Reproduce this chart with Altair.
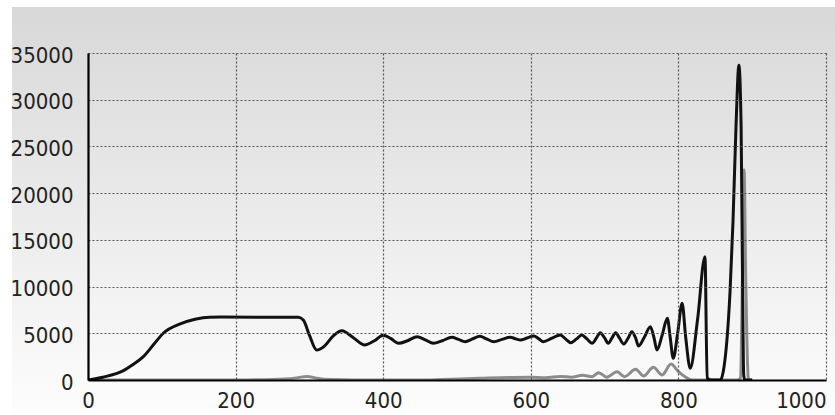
import altair as alt
import pandas as pd

# Black series
black_x = [0, 20, 48, 60, 75, 90, 102, 125, 145, 165, 180, 285, 292, 300, 310, 320, 332, 344, 360, 375,
           388, 400, 410, 421, 433, 446, 457, 468, 480, 493, 502, 511, 521, 531, 540, 550, 561, 572, 580, 586,
           595, 604, 611, 617, 628, 640, 647, 654, 662, 669, 676, 683, 689, 694, 700, 705, 710, 715, 720, 726,
           732, 737, 742, 746, 754, 762, 767, 771, 778, 785, 789, 793, 799, 805, 810, 816, 826, 836, 839, 845,
           857, 862, 866, 870, 874, 878, 882, 885, 887, 888.5, 890, 900]
black_y = [0, 300, 1000, 1600, 2500, 3900, 5000, 6000, 6500, 6720, 6730, 6720, 6400, 4800, 3200, 3600, 4700, 5280, 4500, 3750,
           4200, 4800, 4450, 3930, 4200, 4640, 4300, 3930, 4200, 4570, 4350, 4100, 4400, 4680, 4400, 4100, 4350, 4570, 4400, 4280,
           4500, 4710, 4400, 4100, 4450, 4820, 4400, 4000, 4400, 4820, 4400, 3930, 4500, 5070, 4500, 3930, 4500, 5070, 4500, 3850,
           4500, 5170, 4500, 3640, 4600, 5710, 4500, 3210, 4800, 6600, 4500, 2320, 5000, 8210, 4500, 1250, 6500, 13200, 200, 0,
           0, 1500, 4500, 9500, 17000, 27000, 33700, 27000, 10000, 500, 0, 0]

# Gray series
gray_x = [0, 200, 250, 280, 297, 310, 330, 360, 450, 480, 530, 600, 620, 640, 655, 670, 683, 692, 703, 717,
          727, 742, 753, 766, 778, 790, 800, 810, 818, 880, 884, 887, 889, 891, 895, 900]
gray_y = [0, 0, 60, 200, 380, 200, 50, 0, 0, 60, 180, 290, 250, 380, 300, 500, 350, 780, 300, 890,
          350, 1140, 430, 1360, 540, 1700, 900, 300, 0, 0, 200, 12000, 22500, 12000, 0, 0]

x_ticks = [0, 200, 400, 600, 800, 1000]
y_ticks = [0, 5000, 10000, 15000, 20000, 25000, 30000, 35000]

df = pd.concat([
    pd.DataFrame({"x": gray_x, "y": gray_y, "series": "gray", "ord": 0}),
    pd.DataFrame({"x": black_x, "y": black_y, "series": "black", "ord": 1}),
])

W, H = 738, 327
FONT = "Liberation Sans Narrow, Arial Narrow, DejaVu Sans Condensed, sans-serif"

bg = alt.Chart(alt.Data(values=[{"a": 1}])).mark_rect(
    color=alt.Gradient(
        gradient="linear",
        stops=[alt.GradientStop(color="#d8d8d8", offset=0),
               alt.GradientStop(color="#fdfdfd", offset=1)],
        x1=0, x2=0, y1=0, y2=1,
    )
).encode(
    x=alt.value(-76), x2=alt.value(W + 9), y=alt.value(-46), y2=alt.value(H + 35)
)

axis_common = dict(
    grid=True, gridColor="#555555", gridDash=[2, 2], gridWidth=1.2,
    domainColor="#000000", domainWidth=2.2, ticks=False, format="d",
    labelFont=FONT, labelFontSize=22, labelColor="#222222", title=None, zindex=1,
)

lines = alt.Chart(df).mark_line(interpolate="monotone", strokeWidth=3, clip=True).encode(
    x=alt.X("x:Q", scale=alt.Scale(domain=[0, 1000], nice=False),
            axis=alt.Axis(values=x_ticks, labelPadding=10,
                          labelAlign={"expr": "datum.value >= 1000 ? 'right' : 'center'"},
                          **axis_common)),
    y=alt.Y("y:Q", scale=alt.Scale(domain=[0, 35000], nice=False),
            axis=alt.Axis(values=y_ticks, labelPadding=15, labelOffset=2, **axis_common)),
    color=alt.Color("series:N", scale=alt.Scale(domain=["gray", "black"], range=["#8c8c8c", "#111111"]), legend=None),
    detail="series:N",
    order="ord:Q",
)

chart = alt.layer(bg, lines).properties(
    width=W, height=H,
    autosize=alt.AutoSizeParams(type="none"),
    padding={"left": 88, "top": 53, "right": 9, "bottom": 35},
    background="#ffffff",
).configure_view(stroke=None)

chart.save("out.html", embed_options={"renderer": "svg", "actions": False})
